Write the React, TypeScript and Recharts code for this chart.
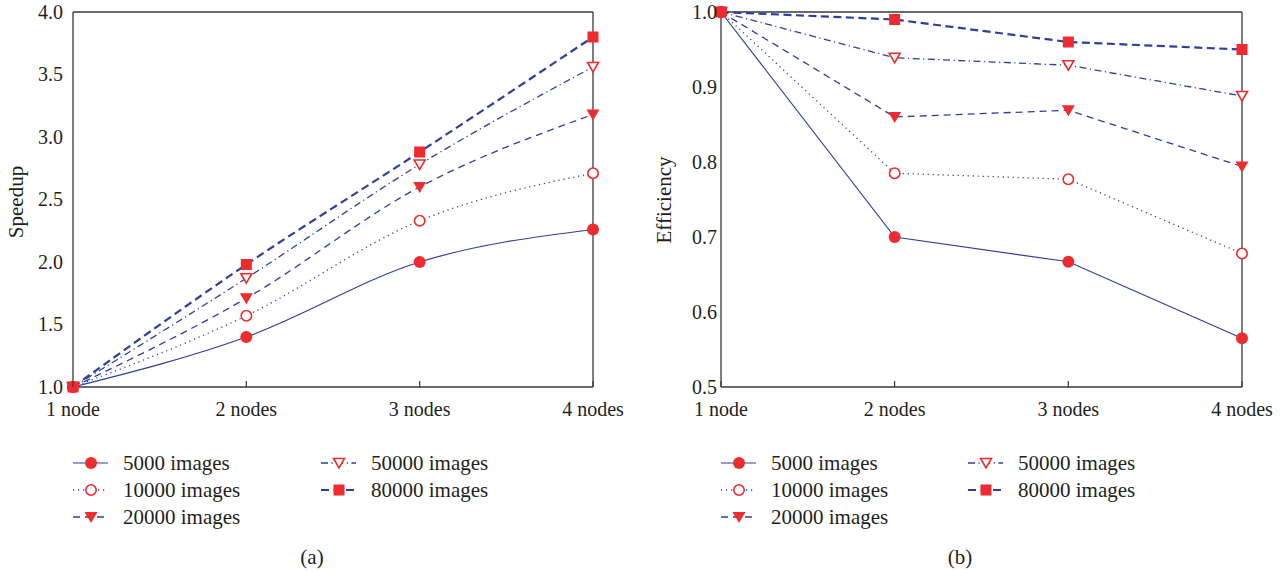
import React from "react";
import { LineChart, Line, XAxis, YAxis, ReferenceLine } from "recharts";

// categories
const nodes = ["1 node", "2 nodes", "3 nodes", "4 nodes"];
const seriesNames = ["5000 images", "10000 images", "20000 images", "50000 images", "80000 images"];

// (a) speedup
const speedup5000 = [1, 1.4, 2.0, 2.26];
const speedup10000 = [1, 1.57, 2.33, 2.71];
const speedup20000 = [1, 1.71, 2.6, 3.18];
const speedup50000 = [1, 1.87, 2.78, 3.56];
const speedup80000 = [1, 1.98, 2.88, 3.8];
const speedupTicks = [1.0, 1.5, 2.0, 2.5, 3.0, 3.5, 4.0];

// (b) efficiency
const eff5000 = [1, 0.7, 0.667, 0.565];
const eff10000 = [1, 0.785, 0.777, 0.678];
const eff20000 = [1, 0.86, 0.869, 0.794];
const eff50000 = [1, 0.939, 0.929, 0.888];
const eff80000 = [1, 0.99, 0.96, 0.95];
const effTicks = [0.5, 0.6, 0.7, 0.8, 0.9, 1.0];

const keys = ["s5000", "s10000", "s20000", "s50000", "s80000"];

const speedupData = nodes.map((node, i) => ({
  node,
  s5000: speedup5000[i],
  s10000: speedup10000[i],
  s20000: speedup20000[i],
  s50000: speedup50000[i],
  s80000: speedup80000[i],
}));

const effData = nodes.map((node, i) => ({
  node,
  s5000: eff5000[i],
  s10000: eff10000[i],
  s20000: eff20000[i],
  s50000: eff50000[i],
  s80000: eff80000[i],
}));

const FONT = "'Liberation Serif', 'Times New Roman', Times, serif";
const BLUE = "#2f3f9c";
const RED = "#ee2b2e";
const AXIS = "#3a3a3a";
const TEXT = "#231f20";

const dashes = ["", "1.2 3.8", "7 5", "7 3.5 1.2 3.5", "8 4.5"];
const widths = [1.2, 1.3, 1.3, 1.3, 2.2];
const shapes = ["circle", "openCircle", "triangle", "openTriangle", "square"];

if (typeof document !== "undefined") document.body.style.margin = "0";

function Marker({ cx, cy, shape }: any) {
  if (cx == null || cy == null) return null;
  switch (shape) {
    case "circle":
      return <circle cx={cx} cy={cy} r={6} fill={RED} />;
    case "openCircle":
      return <circle cx={cx} cy={cy} r={5.2} fill="#fff" stroke={RED} strokeWidth={1.6} />;
    case "triangle":
      return <path d={`M${cx - 6.5},${cy - 5} L${cx + 6.5},${cy - 5} L${cx},${cy + 6} Z`} fill={RED} />;
    case "openTriangle":
      return (
        <path
          d={`M${cx - 5.5},${cy - 4.5} L${cx + 5.5},${cy - 4.5} L${cx},${cy + 5} Z`}
          fill="#fff"
          stroke={RED}
          strokeWidth={1.6}
        />
      );
    default:
      return <rect x={cx - 5.5} y={cy - 5.5} width={11} height={11} fill={RED} />;
  }
}

const XTick = ({ x, y, payload }: any) => (
  <g>
    <line x1={x} x2={x} y1={y} y2={y - 6} stroke={AXIS} strokeWidth={1.2} />
    <text x={x} y={y + 29} textAnchor="middle" style={{ fontSize: 20, fontFamily: FONT }} fill={TEXT}>
      {payload.value}
    </text>
  </g>
);

const YTick = ({ x, y, payload }: any) => (
  <text x={x} y={y} dy="0.33em" textAnchor="end" style={{ fontSize: 20, fontFamily: FONT }} fill={TEXT}>
    {payload.value.toFixed(1)}
  </text>
);

function Panel({ data, ticks, domain, curve, yWidth, tickGap, rightMargin, width, lastCat }: any) {
  return (
    <LineChart
      width={width}
      height={430}
      data={data}
      margin={{ top: 12, right: rightMargin, left: 0, bottom: 0 }}
    >
      <XAxis
        dataKey="node"
        height={43}
        tickSize={0}
        tickMargin={0}
        tick={<XTick />}
        axisLine={{ stroke: AXIS, strokeWidth: 1.3 }}
        tickLine={false}
        interval={0}
      />
      <YAxis
        width={yWidth}
        domain={domain}
        ticks={ticks}
        type="number"
        tickSize={0}
        tickMargin={tickGap}
        tick={<YTick />}
        axisLine={{ stroke: AXIS, strokeWidth: 1.3 }}
        tickLine={false}
        interval={0}
      />
      <ReferenceLine y={domain[1]} stroke={AXIS} strokeWidth={1.3} />
      <ReferenceLine x={lastCat} stroke={AXIS} strokeWidth={1.3} />
      {[...keys].reverse().map((k) => {
        const i = keys.indexOf(k);
        return (
          <Line
            key={k}
            dataKey={k}
            name={seriesNames[i]}
            type={curve}
            stroke={BLUE}
            strokeWidth={widths[i]}
            strokeDasharray={dashes[i] || undefined}
            dot={(p: any) => <Marker key={`${k}-${p.index}`} cx={p.cx} cy={p.cy} shape={shapes[i]} />}
            activeDot={false}
            isAnimationActive={false}
          />
        );
      })}
    </LineChart>
  );
}

function LegendItem({ i, left, top }: any) {
  return (
    <div style={{ position: "absolute", left, top, height: 28, display: "flex", alignItems: "center" }}>
      <svg width={36} height={20} style={{ display: "block" }}>
        <line
          x1={0}
          x2={35}
          y1={10}
          y2={10}
          stroke={BLUE}
          strokeWidth={widths[i]}
          strokeDasharray={dashes[i] || undefined}
        />
        <Marker cx={18} cy={10} shape={shapes[i]} />
      </svg>
      <span style={{ marginLeft: 14, fontFamily: FONT, fontSize: 21, color: TEXT, whiteSpace: "nowrap" }}>
        {seriesNames[i]}
      </span>
    </div>
  );
}

function Legend({ x1, x2 }: any) {
  const rows = [449, 476, 503];
  return (
    <>
      <LegendItem i={0} left={x1} top={rows[0]} />
      <LegendItem i={1} left={x1} top={rows[1]} />
      <LegendItem i={2} left={x1} top={rows[2]} />
      <LegendItem i={3} left={x2} top={rows[0]} />
      <LegendItem i={4} left={x2} top={rows[1]} />
    </>
  );
}

const vLabel = (text: string, cx: number, cy: number) => (
  <div
    style={{
      position: "absolute",
      left: cx,
      top: cy,
      transform: "translate(-50%, -50%) rotate(-90deg)",
      fontFamily: FONT,
      fontSize: 21,
      color: TEXT,
      whiteSpace: "nowrap",
    }}
  >
    {text}
  </div>
);

const caption = (text: string, cx: number) => (
  <div
    style={{
      position: "absolute",
      left: cx,
      top: 557,
      transform: "translate(-50%, -50%)",
      fontFamily: FONT,
      fontSize: 21,
      color: TEXT,
    }}
  >
    {text}
  </div>
);

export default function App() {
  return (
    <div style={{ position: "relative", width: 1287, height: 573, background: "#fff", overflow: "hidden" }}>
      <div style={{ position: "absolute", left: 0, top: 0 }}>
        <Panel
          data={speedupData}
          ticks={speedupTicks}
          domain={[1, 4]}
          curve="monotone"
          yWidth={73}
          tickGap={10}
          rightMargin={47}
          width={640}
          lastCat="4 nodes"
        />
      </div>
      <div style={{ position: "absolute", left: 640, top: 0 }}>
        <Panel
          data={effData}
          ticks={effTicks}
          domain={[0.5, 1]}
          curve="linear"
          yWidth={81}
          tickGap={4}
          rightMargin={45}
          width={647}
          lastCat="4 nodes"
        />
      </div>
      {vLabel("Speedup", 16, 202)}
      {vLabel("Efficiency", 664, 200)}
      <Legend x1={73} x2={321} />
      <Legend x1={721} x2={968} />
      {caption("(a)", 312)}
      {caption("(b)", 960)}
    </div>
  );
}
